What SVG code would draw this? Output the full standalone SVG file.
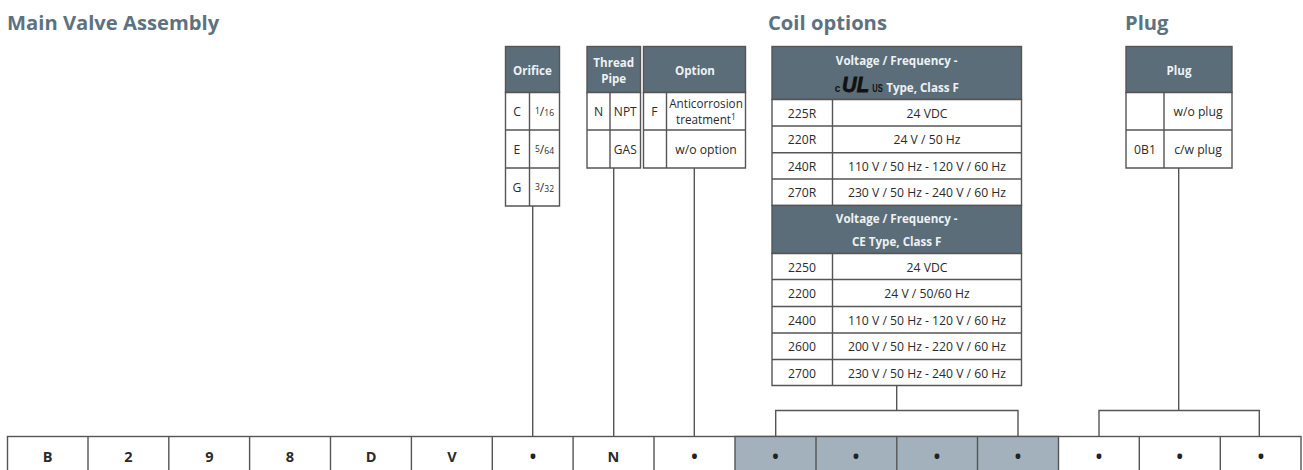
<svg xmlns="http://www.w3.org/2000/svg" width="1303" height="470" viewBox="0 0 1303 470">
<style>
text{font-family:"Open Sans","Noto Sans","Liberation Sans",sans-serif;font-size:12.200px;fill:#2b2b2b;text-anchor:middle}
.title{font-size:20.200px;font-weight:700;fill:#5d7280;text-anchor:start}
.h{fill:#5a6d79;stroke:#555;stroke-width:1.4}
.h2{fill:#eef1f3;font-weight:700;font-size:11.600px}
.c{fill:#fff;stroke:#555;stroke-width:1.4}
.g{fill:#a3b1bc;stroke:#555;stroke-width:1.4}
.b{font-weight:700;font-size:14.500px}
.d{font-weight:700;font-size:17px;fill:#222}
.l{fill:none;stroke:#555;stroke-width:1.4}
.f{font-size:8.500px}
.s{font-size:8.500px}
.m{fill:#111;font-weight:700;font-family:"Liberation Sans",sans-serif}
</style>
<g id="titles">
<text class="title" x="7" y="30">Main Valve Assembly</text>
<text class="title" x="768" y="30">Coil options</text>
<text class="title" x="1125" y="30">Plug</text>
</g>
<g id="connectors">
<path class="l" d="M532.7 206V436M613.7 168V436M694.3 168V436M896.7 385V410.500M775.700 436V410.500H1018V436M1178.700 168V410.500M1099 436V410.500H1259.300V436"/>
</g>
<g id="orifice">
<rect class="h" x="505.500" y="46.500" width="54" height="46"/>
<text class="h2" x="532.500" y="75">Orifice</text>
<path class="c" d="M505.500 92.500H559.500V206H505.500ZM505.500 130H559.500M505.500 168H559.500M529.500 92.500V206"/>
<text x="517" y="116">C</text><text x="517" y="154">E</text><text x="517" y="192">G</text>
<text x="544.500" y="116"><tspan class="s" dy="-2">1</tspan><tspan dy="2">/</tspan><tspan class="f">16</tspan></text>
<text x="544.500" y="154"><tspan class="s" dy="-2">5</tspan><tspan dy="2">/</tspan><tspan class="f">64</tspan></text>
<text x="544.500" y="192"><tspan class="s" dy="-2">3</tspan><tspan dy="2">/</tspan><tspan class="f">32</tspan></text>
</g>
<g id="thread">
<rect class="h" x="587" y="46.500" width="53.500" height="46"/>
<text class="h2" x="613.700" y="66.500">Thread</text><text class="h2" x="613.700" y="82.500">Pipe</text>
<path class="c" d="M587 92.500H640.500V168H587ZM587 130H640.500M610 92.500V168"/>
<text x="598.500" y="116">N</text><text x="625.300" y="116" style="font-size:12px">NPT</text><text x="625.300" y="154" style="font-size:12px">GAS</text>
</g>
<g id="option">
<rect class="h" x="643.500" y="46.500" width="102" height="46"/>
<text class="h2" x="695" y="75">Option</text>
<path class="c" d="M643.500 92.500H745.500V168H643.500ZM643.500 130H745.500M666.500 92.500V168"/>
<text x="654.500" y="116">F</text>
<text x="706" y="108" style="font-size:11.700px">Anticorrosion</text>
<text x="706" y="124" style="font-size:11.700px">treatment<tspan font-size="8.500px" dy="-4.500">1</tspan></text>
<text x="706" y="154">w/o option</text>
</g>
<g id="coil">
<rect class="h" x="772" y="46.500" width="249.500" height="53"/>
<text class="h2" x="896.700" y="65">Voltage / Frequency -</text>
<text class="h2" x="922.500" y="92">Type, Class F</text>
<text class="m" x="837.500" y="91.500" style="font-size:10px">c</text>
<text class="m" x="855.500" y="91.500" textLength="27" lengthAdjust="spacingAndGlyphs" style="font-size:22px;font-style:italic;stroke:#111;stroke-width:.8">UL</text>
<text class="m" x="877.500" y="91.500" textLength="10.500" lengthAdjust="spacingAndGlyphs" style="font-size:10px">US</text>
<path class="c" d="M772 99.500H1021.500V205.500H772ZM772 126H1021.500M772 152.700H1021.500M772 179H1021.500M832.500 99.500V205.500"/>
<text x="802" y="117.500">225R</text><text x="927" y="117.500">24 VDC</text>
<text x="802" y="144">220R</text><text x="927" y="144">24 V / 50 Hz</text>
<text x="802" y="171">240R</text><text x="927" y="171">110 V / 50 Hz - 120 V / 60 Hz</text>
<text x="802" y="196.500">270R</text><text x="927" y="196.500">230 V / 50 Hz - 240 V / 60 Hz</text>
<rect class="h" x="772" y="205.500" width="249.500" height="48"/>
<text class="h2" x="896.700" y="223">Voltage / Frequency -</text>
<text class="h2" x="896.700" y="246">CE Type, Class F</text>
<path class="c" d="M772 253.500H1021.500V385.500H772ZM772 279.500H1021.500M772 306.500H1021.500M772 333H1021.500M772 359.500H1021.500M832.500 253.500V385.500"/>
<text x="802" y="271.500">2250</text><text x="927" y="271.500">24 VDC</text>
<text x="802" y="298">2200</text><text x="927" y="298">24 V / 50/60 Hz</text>
<text x="802" y="325">2400</text><text x="927" y="325">110 V / 50 Hz - 120 V / 60 Hz</text>
<text x="802" y="351">2600</text><text x="927" y="351">200 V / 50 Hz - 220 V / 60 Hz</text>
<text x="802" y="378">2700</text><text x="927" y="378">230 V / 50 Hz - 240 V / 60 Hz</text>
</g>
<g id="plug">
<rect class="h" x="1126" y="46.500" width="106" height="46"/>
<text class="h2" x="1179" y="75">Plug</text>
<path class="c" d="M1126 92.500H1232V168H1126ZM1126 130H1232M1164 92.500V168"/>
<text x="1198" y="116">w/o plug</text>
<text x="1145" y="154">0B1</text><text x="1198" y="154">c/w plug</text>
</g>
<g id="code">
<rect class="c" x="7.500" y="436.500" width="1293.500" height="40"/>
<rect class="g" x="735" y="436.500" width="323.500" height="40"/>
<path class="l" d="M88 436.500V470M168.800 436.500V470M249.600 436.500V470M330.500 436.500V470M411.400 436.500V470M492.300 436.500V470M573.100 436.500V470M654 436.500V470M816 436.500V470M896.800 436.500V470M977.500 436.500V470M1139.300 436.500V470M1220.300 436.500V470"/>
<text class="b" x="47.500" y="462">B</text><text class="b" x="128.500" y="462">2</text><text class="b" x="209.300" y="462">9</text><text class="b" x="290" y="462">8</text><text class="b" x="371" y="462">D</text><text class="b" x="452" y="462">V</text>
<text class="d" x="533" y="463">•</text><text class="b" x="613.500" y="462">N</text><text class="d" x="694.500" y="463">•</text>
<text class="d" x="775.500" y="463">•</text><text class="d" x="856" y="463">•</text><text class="d" x="937" y="463">•</text><text class="d" x="1018" y="463">•</text>
<text class="d" x="1099" y="463">•</text><text class="d" x="1179.700" y="463">•</text><text class="d" x="1261" y="463">•</text>
</g>
</svg>
